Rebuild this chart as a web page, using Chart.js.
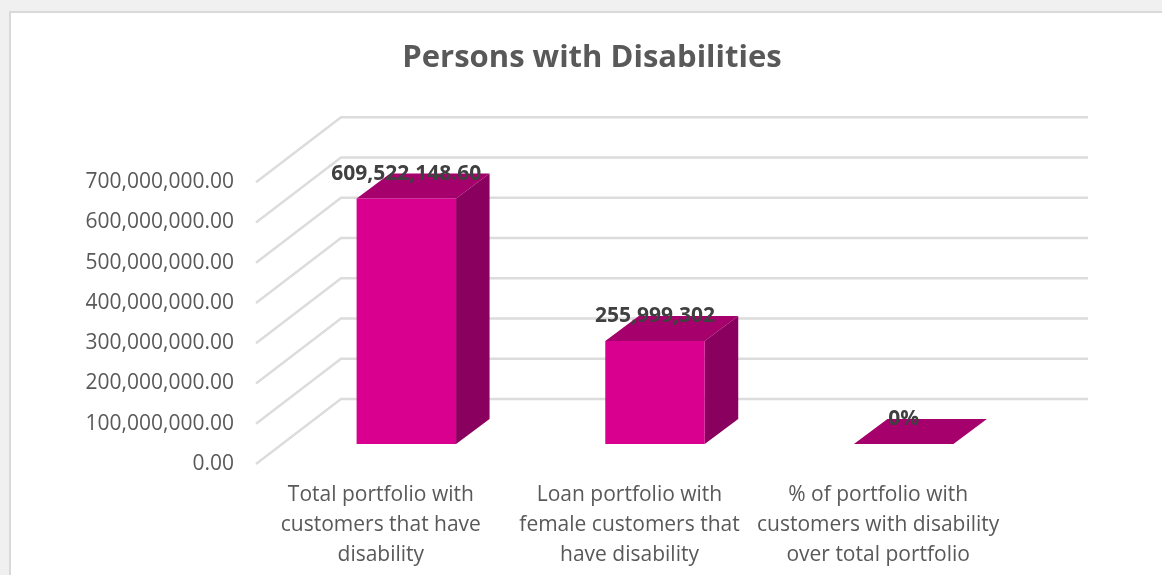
<!DOCTYPE html>
<html lang="en">

<head>
    <title>Persons with Disabilities</title>
    <meta charset="utf-8" />
    <script src="https://cdn.jsdelivr.net/npm/chart.js"></script>
    <style>
        html, body { margin: 0; height: 100%; overflow: hidden; background: #f0f0f0; }
        .panel {
            position: absolute; left: 9px; top: 11px; width: 1200px; height: 600px;
            background: #fff; border: 2px solid #d9d9d9;
        }
        canvas { position: absolute; left: 0; top: 0; }
    </style>
</head>

<body>
    <div class="panel"></div>
    <canvas id="miGrafico" width="1162" height="575"></canvas>

    <script>
        const categorias = [
            ['Total portfolio with', 'customers that have', 'disability'],
            ['Loan portfolio with', 'female customers that', 'have disability'],
            ['% of portfolio with', 'customers with disability', 'over total portfolio']
        ];
        const valores = [609522148.60, 255999302, 0];
        const etiquetasValor = ['609,522,148.60', '255,999,302', '0%'];
        const etiquetasEje = ['0.00', '100,000,000.00', '200,000,000.00', '300,000,000.00',
            '400,000,000.00', '500,000,000.00', '600,000,000.00', '700,000,000.00'];

        // depth of the 3D box: wall and front edge sit off the plane of the bars
        const fondo = { x: 59, y: -45 };
        const frente = { x: -26, y: 20 };
        const caja = { x: 33.5, y: -25 };

        function poligono(ctx, color, puntos) {
            ctx.fillStyle = color;
            ctx.beginPath();
            puntos.forEach(([x, y], i) => i ? ctx.lineTo(x, y) : ctx.moveTo(x, y));
            ctx.closePath();
            ctx.fill();
        }

        const caja3d = {
            id: 'caja3d',
            // wall gridlines and the diagonals running along the side wall
            beforeDatasetsDraw(chart) {
                const { ctx, chartArea, scales } = chart;
                ctx.save();
                ctx.strokeStyle = '#dcdcdc';
                ctx.lineWidth = 2.4;
                scales.y.ticks.forEach(tick => {
                    const y = scales.y.getPixelForValue(tick.value);
                    ctx.beginPath();
                    ctx.moveTo(chartArea.left + frente.x, y + frente.y);
                    ctx.lineTo(chartArea.left + fondo.x, y + fondo.y);
                    ctx.lineTo(chartArea.right + fondo.x + 1, y + fondo.y);
                    ctx.stroke();
                });
                // top and side faces of every bar
                chart.getDatasetMeta(0).data.forEach(barra => {
                    const izq = barra.x - barra.width / 2;
                    const der = barra.x + barra.width / 2;
                    poligono(ctx, '#a6006c', [[izq, barra.y], [der, barra.y],
                        [der + caja.x, barra.y + caja.y], [izq + caja.x, barra.y + caja.y]]);
                    poligono(ctx, '#8a005e', [[der, barra.y], [der, barra.base],
                        [der + caja.x, barra.base + caja.y], [der + caja.x, barra.y + caja.y]]);
                });
                ctx.restore();
            },
            afterDatasetsDraw(chart) {
                const { ctx } = chart;
                ctx.save();
                ctx.font = 'bold 21px "Open Sans"';
                ctx.fillStyle = '#404040';
                ctx.textAlign = 'center';
                ctx.textBaseline = 'middle';
                chart.getDatasetMeta(0).data.forEach((barra, i) => {
                    ctx.fillText(etiquetasValor[i], barra.x, barra.y - 25);
                });
                ctx.restore();
            }
        };

        new Chart(document.querySelector('#miGrafico'), {
            type: 'bar',
            plugins: [caja3d],
            data: {
                labels: categorias,
                datasets: [{
                    data: valores,
                    backgroundColor: '#d90090',
                    categoryPercentage: 1,
                    barPercentage: 0.4
                }]
            },
            options: {
                responsive: false,
                animation: false,
                layout: { padding: { left: 22 } },
                plugins: {
                    legend: { display: false },
                    tooltip: { enabled: false },
                    title: {
                        display: true,
                        text: 'Persons with Disabilities',
                        color: '#595959',
                        font: { family: 'Open Sans', size: 31, weight: 'bold', lineHeight: 1.2 },
                        padding: { top: 40, bottom: 85 }
                    }
                },
                scales: {
                    x: {
                        grid: { display: false },
                        border: { display: false },
                        ticks: {
                            color: '#595959',
                            font: { family: 'Open Sans', size: 21, lineHeight: 30 / 21 },
                            maxRotation: 0,
                            autoSkip: false,
                            labelOffset: -25.5,
                            padding: 28
                        },
                        afterFit(scale) { scale.height = 131; }
                    },
                    y: {
                        min: 0,
                        max: 700000000,
                        grid: { display: false, drawTicks: false },
                        border: { display: false },
                        ticks: {
                            stepSize: 100000000,
                            color: '#595959',
                            font: { family: 'Open Sans', size: 21 },
                            padding: 48,
                            labelOffset: 20,
                            callback: (valor, i) => etiquetasEje[i]
                        },
                        afterFit(scale) { scale.width = 260; }
                    },
                    // empty axis, only keeps room free on the right of the bars
                    derecha: {
                        position: 'right',
                        grid: { display: false },
                        border: { display: false },
                        ticks: { display: false },
                        afterFit(scale) { scale.width = 134; }
                    }
                }
            }
        });
    </script>
</body>

</html>
